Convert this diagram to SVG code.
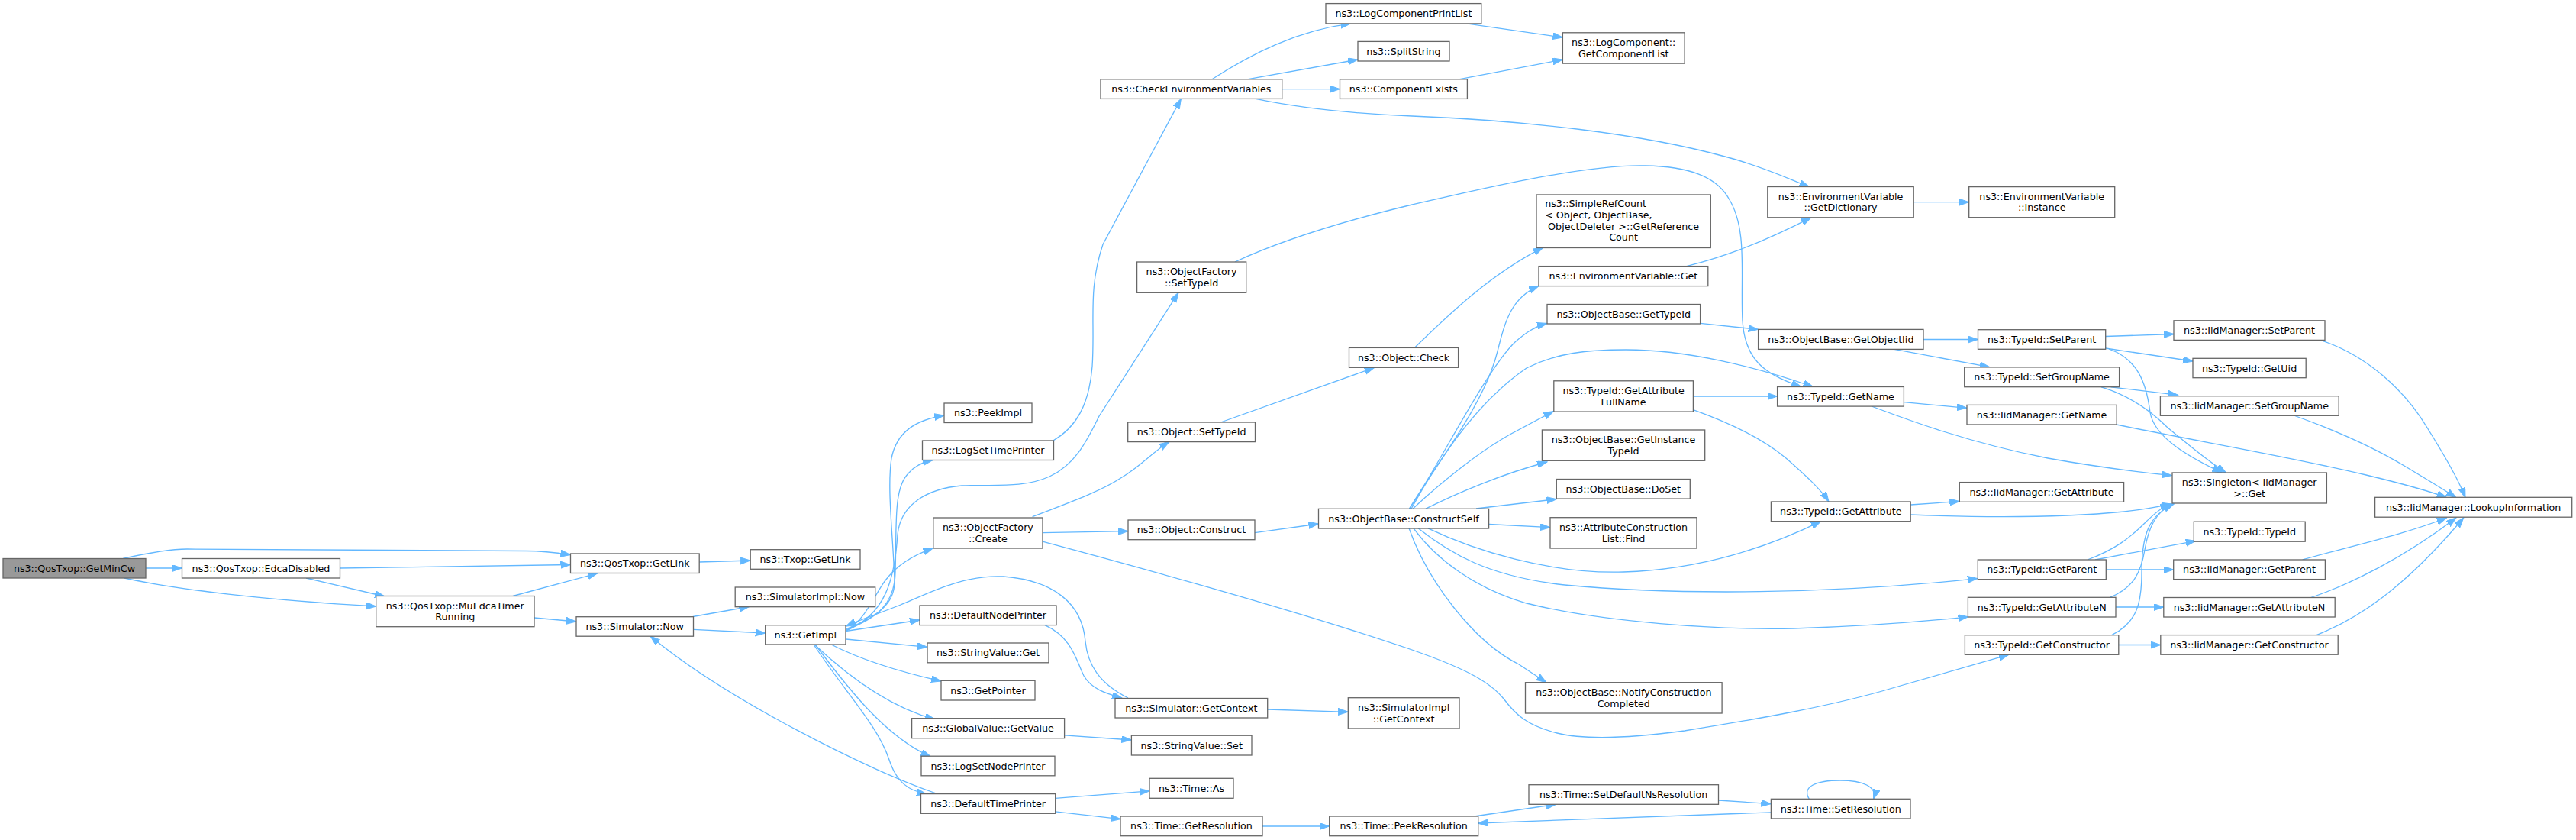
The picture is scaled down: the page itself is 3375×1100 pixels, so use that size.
<svg xmlns="http://www.w3.org/2000/svg" width="3375" height="1100" viewBox="0 0 3375 1100">
<style>
.n rect{fill:#ffffff;stroke:#666666;stroke-width:1.3}
.root rect{fill:#999999}
text{font-family:"DejaVu Sans","Liberation Sans",sans-serif;font-size:12.7px;text-anchor:middle;fill:#000000}
.l{text-anchor:start}
.e path{fill:none;stroke:#63b8ff;stroke-width:1.3;marker-end:url(#a)}
</style>
<defs>
<marker id="a" markerUnits="userSpaceOnUse" markerWidth="14" markerHeight="10" refX="13" refY="4.5" orient="auto">
<path d="M0,0 L13,4.5 L0,9 z" fill="#63b8ff" stroke="#63b8ff" stroke-width="1"/>
</marker>
</defs>
<rect width="3375" height="1100" fill="#ffffff"/>
<g id="edges" class="e">
<path d="M191,744 L238.5,744"/>
<path d="M161,731.5 C190,725 220,719 245,719 L690,721.5 C710,721.5 730,724 747.5,726.6"/>
<path d="M163,757 C230,772 350,786 492.7,794"/>
<path d="M445.5,744 L747.5,739.5"/>
<path d="M401,757 L504,781"/>
<path d="M672,780.5 L783,750.7"/>
<path d="M700,809 L755,814"/>
<path d="M916.2,736 L983.2,734"/>
<path d="M907.8,807.5 L981.5,794.5"/>
<path d="M908.5,824.3 L1002.7,829"/>
<path d="M1228,1039.5 C1140,1010 950,915 852,833"/>
<path d="M1107.6,824 C1150,808 1173,790 1172,760 C1170,700 1162,640 1168,600 C1175,565 1200,550 1237,544"/>
<path d="M1107.6,825 C1150,810 1172,790 1173,750 C1175,690 1170,640 1190,620 C1198,610 1210,605 1222,602.5"/>
<path d="M1108,826 C1160,805 1172,760 1176,700 C1180,660 1215,640 1260,636 C1300,634 1340,640 1375,624 C1410,608 1425,575 1440,545 L1544,383.2"/>
<path d="M1108,827 C1135,810 1145,780 1160,760 C1175,740 1195,728 1222.5,717.7"/>
<path d="M1108,826.5 L1205,812"/>
<path d="M1108.4,837 L1215,847.4"/>
<path d="M1089,844 C1130,865 1180,880 1233,892"/>
<path d="M1067,844 C1100,875 1160,925 1225,942"/>
<path d="M1068,844 C1110,900 1160,965 1219.5,991"/>
<path d="M1066,844 C1110,910 1150,950 1165,995 C1175,1025 1190,1035 1214,1040"/>
<path d="M1478,914 C1440,895 1425,870 1422,840 C1418,790 1380,760 1315,755 C1260,752 1210,780 1180,792 C1150,804 1130,810 1108.4,820"/>
<path d="M1369,818.7 C1405,835 1410,865 1420,885 C1430,902 1448,908 1470,914"/>
<path d="M1379.4,577.2 C1410,560 1427,530 1431,480 C1435,420 1425,380 1445,320 L1547.4,129.4"/>
<path d="M1588,103.8 C1640,70 1700,40 1769.7,30.9"/>
<path d="M1634,103.8 L1779,78"/>
<path d="M1679.7,116.6 L1755.5,116.6"/>
<path d="M1645,129.4 C1720,145 1800,150 1850,152 C2000,158 2150,175 2260,205 C2310,218 2345,235 2370.4,244.5"/>
<path d="M1921.4,30.9 L2047.4,49"/>
<path d="M1911.2,103.8 L2047.4,78"/>
<path d="M2507.2,264.7 L2579.7,264.7"/>
<path d="M2209.7,348.6 C2255,337 2300,322 2373,284.8"/>
<path d="M1617.9,343 C1700,305 1800,280 1850,268 C1950,245 2080,215 2156,217 C2210,218 2248,230 2265,260 C2290,300 2280,360 2283,420 C2286,470 2310,490 2360,506.5"/>
<path d="M1599.4,553 L1800.8,481.3"/>
<path d="M1853.4,455.4 C1890,420 1950,360 2021.8,324.2"/>
<path d="M1352.6,676.7 C1390,662 1440,645 1470,625 C1495,610 1510,592 1532,578.6"/>
<path d="M1366,697.6 L1478,695.6"/>
<path d="M1366,709.2 C1500,745 1700,800 1850,851 C1910,872 1950,890 1970,915 C1985,935 2000,950 2040,960 C2080,970 2140,966 2207,957 C2300,942 2400,925 2483,900 L2631.7,857.3"/>
<path d="M1644,697.6 L1727.5,686"/>
<path d="M1846.4,666.2 C1880,610 1945,530 1962,460 C1972,420 1980,390 2016.2,374.4"/>
<path d="M1847,666.2 C1890,600 1950,480 1986,447 C2000,435 2010,428 2027,423.5"/>
<path d="M1849,666.2 C1880,610 1930,530 2000,482 C2040,462 2080,458 2130,458 C2210,458 2300,480 2375.5,506.5"/>
<path d="M1851,666.2 C1890,630 1940,590 1980,568 L2035.5,538.5"/>
<path d="M1868,666.2 C1910,645 1970,620 2027,605"/>
<path d="M1934,666 L2039.3,653.6"/>
<path d="M1950.6,686.5 L2031,690.7"/>
<path d="M1871,691.8 C1930,720 2030,752 2127,749 C2230,746 2320,715 2385.7,682.6"/>
<path d="M1858,691.8 C1900,725 1950,755 2050,766 C2200,780 2400,778 2590.8,757.6"/>
<path d="M1852,691.8 C1880,730 1930,770 2000,790 C2100,815 2250,825 2350,823 C2450,820 2520,814 2578.6,807.8"/>
<path d="M1846,691.8 C1870,760 1930,840 1990,870 L2026,893.7"/>
<path d="M2227.6,423.4 L2303.6,431.4"/>
<path d="M2520,444.5 L2591.5,444.5"/>
<path d="M2481.7,457.3 L2606.7,480.7"/>
<path d="M2218.4,519 L2328.6,519"/>
<path d="M2218.4,536.6 C2270,555 2310,575 2340,600 C2365,622 2385,640 2396,657"/>
<path d="M2494.4,526.7 L2577,534.3"/>
<path d="M2452,532 C2500,550 2580,580 2683,600 C2750,612 2800,618 2845.3,622.7"/>
<path d="M2758.7,440.5 L2848,437.5"/>
<path d="M2758.7,456 L2873,473"/>
<path d="M2763,457 C2800,470 2812,500 2817,540 C2822,570 2860,595 2911.4,619"/>
<path d="M2765.6,506.8 L2853.6,517.3"/>
<path d="M2753,506.8 C2780,515 2810,530 2840,560 C2870,585 2895,605 2916.4,619"/>
<path d="M2773,556 C2880,578 3000,598 3100,622 C3150,634 3180,642 3205.5,651.6"/>
<path d="M3040,445.4 C3100,465 3150,510 3180,560 C3205,600 3222,630 3230,651.6"/>
<path d="M3005.3,544 C3050,560 3100,580 3150,610 C3180,628 3200,640 3217.9,651.6"/>
<path d="M2503.3,661 L2567.3,656.5"/>
<path d="M2503.3,674 C2600,678 2700,678 2783,670 C2810,667 2830,663 2845.3,660"/>
<path d="M2735,733 C2770,720 2790,705 2810,685 C2825,670 2835,663 2843.3,660"/>
<path d="M2745,733 L2876.7,708.3"/>
<path d="M2759.3,746 L2847.7,746"/>
<path d="M2764.3,782.3 C2795,770 2805,750 2810,720 C2815,690 2825,670 2846.7,660"/>
<path d="M2772,795 L2834.8,795"/>
<path d="M2766.7,831.7 C2800,815 2806,790 2806,750 C2806,700 2815,675 2848.3,660"/>
<path d="M2775.8,844.5 L2830.8,844.5"/>
<path d="M3016.7,733 C3080,715 3150,700 3205.5,678"/>
<path d="M3027.6,782.5 C3080,765 3150,730 3218,678"/>
<path d="M3035,831.6 C3090,810 3150,770 3227.8,678"/>
<path d="M1654,1082 L1741.7,1082"/>
<path d="M1931.6,1069 L2038.8,1053.3"/>
<path d="M2251.5,1048 L2320.4,1052.6"/>
<path d="M2320.4,1063.8 L1936.2,1078"/>
<path d="M2370.4,1046.3 C2360,1030 2380,1022 2411,1022 C2440,1022 2460,1030 2454.6,1046.3"/>
<path d="M1382.7,1045.3 L1506,1035.8"/>
<path d="M1382.7,1062.8 L1468,1072.6"/>
<path d="M1394.6,962.8 L1482.4,969"/>
<path d="M1660.7,929 L1766.3,932.3"/>
</g>
<g id="n1" class="n root"><rect x="4" y="731.5" width="187" height="25.5"/><text x="97.5" y="748.7">ns3::QosTxop::GetMinCw</text></g>
<g id="n2" class="n"><rect x="238.5" y="731.5" width="207" height="25.5"/><text x="342" y="748.7">ns3::QosTxop::EdcaDisabled</text></g>
<g id="n3" class="n"><rect x="492.7" y="780.5" width="207.3" height="40.2"/><text x="596.3" y="797.7">ns3::QosTxop::MuEdcaTimer</text><text x="596.3" y="812.4">Running</text></g>
<g id="n4" class="n"><rect x="747.5" y="725" width="168.7" height="25.5"/><text x="831.8" y="742.2">ns3::QosTxop::GetLink</text></g>
<g id="n5" class="n"><rect x="755" y="807.7" width="153.5" height="25.5"/><text x="831.7" y="824.9">ns3::Simulator::Now</text></g>
<g id="n6" class="n"><rect x="983.2" y="719.7" width="143.8" height="25.6"/><text x="1055.1" y="737">ns3::Txop::GetLink</text></g>
<g id="n7" class="n"><rect x="963.2" y="769" width="183.5" height="25.7"/><text x="1055" y="786.3">ns3::SimulatorImpl::Now</text></g>
<g id="n8" class="n"><rect x="1002.7" y="818.7" width="105.3" height="25.3"/><text x="1055.3" y="835.8">ns3::GetImpl</text></g>
<g id="n9" class="n"><rect x="1237" y="528" width="115" height="25.5"/><text x="1294.5" y="545.2">ns3::PeekImpl</text></g>
<g id="n10" class="n"><rect x="1208.5" y="577" width="172" height="25.5"/><text x="1294.5" y="594.2">ns3::LogSetTimePrinter</text></g>
<g id="n11" class="n"><rect x="1222.8" y="678" width="143.2" height="40"/><text x="1294.4" y="695.1">ns3::ObjectFactory</text><text x="1294.4" y="709.8">::Create</text></g>
<g id="n12" class="n"><rect x="1205" y="793" width="179" height="25.6"/><text x="1294.5" y="810.3">ns3::DefaultNodePrinter</text></g>
<g id="n13" class="n"><rect x="1215" y="842" width="159" height="25.8"/><text x="1294.5" y="859.4">ns3::StringValue::Get</text></g>
<g id="n14" class="n"><rect x="1233" y="891.3" width="123" height="25.7"/><text x="1294.5" y="908.6">ns3::GetPointer</text></g>
<g id="n15" class="n"><rect x="1194.6" y="940.7" width="200" height="26"/><text x="1294.6" y="958.2">ns3::GlobalValue::GetValue</text></g>
<g id="n16" class="n"><rect x="1207" y="990.2" width="175" height="25.6"/><text x="1294.5" y="1007.5">ns3::LogSetNodePrinter</text></g>
<g id="n17" class="n"><rect x="1206.5" y="1039.6" width="176.2" height="25.7"/><text x="1294.6" y="1056.9">ns3::DefaultTimePrinter</text></g>
<g id="n18" class="n"><rect x="1442" y="103.8" width="237.7" height="25.6"/><text x="1560.85" y="121.1">ns3::CheckEnvironmentVariables</text></g>
<g id="n19" class="n"><rect x="1489.6" y="343" width="143.1" height="40.3"/><text x="1561.1" y="360.2">ns3::ObjectFactory</text><text x="1561.1" y="374.9">::SetTypeId</text></g>
<g id="n20" class="n"><rect x="1477.7" y="553" width="166.8" height="25.6"/><text x="1561.1" y="570.3">ns3::Object::SetTypeId</text></g>
<g id="n21" class="n"><rect x="1478" y="681" width="166" height="25.7"/><text x="1561" y="698.3">ns3::Object::Construct</text></g>
<g id="n22" class="n"><rect x="1461" y="914.5" width="199.7" height="25.5"/><text x="1560.85" y="931.7">ns3::Simulator::GetContext</text></g>
<g id="n23" class="n"><rect x="1482.4" y="963.2" width="157.6" height="25.8"/><text x="1561.2" y="980.6">ns3::StringValue::Set</text></g>
<g id="n24" class="n"><rect x="1506" y="1019.3" width="110" height="26"/><text x="1561" y="1036.8">ns3::Time::As</text></g>
<g id="n25" class="n"><rect x="1468" y="1069" width="186" height="25.7"/><text x="1561" y="1086.3">ns3::Time::GetResolution</text></g>
<g id="n26" class="n"><rect x="1737" y="4.6" width="203.8" height="26.3"/><text x="1838.9" y="22.2">ns3::LogComponentPrintList</text></g>
<g id="n27" class="n"><rect x="1779" y="54.4" width="120" height="25.6"/><text x="1839" y="71.7">ns3::SplitString</text></g>
<g id="n28" class="n"><rect x="1755.5" y="103.8" width="166.9" height="25.6"/><text x="1838.9" y="121.1">ns3::ComponentExists</text></g>
<g id="n29" class="n"><rect x="1767.5" y="455.4" width="143.1" height="25.9"/><text x="1839" y="472.8">ns3::Object::Check</text></g>
<g id="n30" class="n"><rect x="1727.5" y="666.3" width="223.1" height="25.7"/><text x="1839" y="683.6">ns3::ObjectBase::ConstructSelf</text></g>
<g id="n31" class="n"><rect x="1766.3" y="913.7" width="145.7" height="40.3"/><text x="1839.1" y="930.9">ns3::SimulatorImpl</text><text x="1839.1" y="945.6">::GetContext</text></g>
<g id="n32" class="n"><rect x="1741.7" y="1069" width="195" height="25.7"/><text x="1839.2" y="1086.3">ns3::Time::PeekResolution</text></g>
<g id="n33" class="n"><rect x="2047.4" y="42.8" width="159.7" height="40.3"/><text x="2127.2" y="60">ns3::LogComponent::</text><text x="2127.2" y="74.7">GetComponentList</text></g>
<g id="n34" class="n"><rect x="2013" y="255" width="228.3" height="69.5"/><text class="l" x="2024.2" y="271">ns3::SimpleRefCount</text><text class="l" x="2024.2" y="285.8">&lt; Object, ObjectBase,</text><text x="2127.1" y="300.9">ObjectDeleter &gt;::GetReference</text><text x="2127.1" y="314.9">Count</text></g>
<g id="n35" class="n"><rect x="2016" y="348.6" width="221.8" height="26"/><text x="2126.9" y="366.1">ns3::EnvironmentVariable::Get</text></g>
<g id="n36" class="n"><rect x="2027" y="398.5" width="200.6" height="25.5"/><text x="2127.3" y="415.7">ns3::ObjectBase::GetTypeId</text></g>
<g id="n37" class="n"><rect x="2035.8" y="498.8" width="182.6" height="40.3"/><text x="2127.1" y="516.1">ns3::TypeId::GetAttribute</text><text x="2127.1" y="530.8">FullName</text></g>
<g id="n38" class="n"><rect x="2020.4" y="563" width="213.3" height="40.3"/><text x="2127" y="580.2">ns3::ObjectBase::GetInstance</text><text x="2127" y="594.9">TypeId</text></g>
<g id="n39" class="n"><rect x="2039.3" y="627.5" width="175" height="25.6"/><text x="2126.8" y="644.8">ns3::ObjectBase::DoSet</text></g>
<g id="n40" class="n"><rect x="2031" y="677.7" width="192" height="40.3"/><text x="2127" y="694.9">ns3::AttributeConstruction</text><text x="2127" y="709.6">List::Find</text></g>
<g id="n41" class="n"><rect x="1998.5" y="893.7" width="257.6" height="40.3"/><text x="2127.3" y="910.9">ns3::ObjectBase::NotifyConstruction</text><text x="2127.3" y="925.6">Completed</text></g>
<g id="n42" class="n"><rect x="2003" y="1027.7" width="248.5" height="25.6"/><text x="2127.2" y="1045">ns3::Time::SetDefaultNsResolution</text></g>
<g id="n43" class="n"><rect x="2315.8" y="244.5" width="191.4" height="40.3"/><text x="2411.5" y="261.7">ns3::EnvironmentVariable</text><text x="2411.5" y="276.4">::GetDictionary</text></g>
<g id="n44" class="n"><rect x="2303.6" y="431.4" width="216.4" height="26"/><text x="2411.8" y="448.9">ns3::ObjectBase::GetObjectIid</text></g>
<g id="n45" class="n"><rect x="2328.6" y="506.5" width="165.8" height="25.6"/><text x="2411.5" y="523.8">ns3::TypeId::GetName</text></g>
<g id="n46" class="n"><rect x="2320.4" y="657" width="182.8" height="25.7"/><text x="2411.8" y="674.3">ns3::TypeId::GetAttribute</text></g>
<g id="n47" class="n"><rect x="2320.4" y="1046.3" width="182.6" height="25.7"/><text x="2411.7" y="1063.6">ns3::Time::SetResolution</text></g>
<g id="n48" class="n"><rect x="2579.7" y="244.6" width="191" height="40.1"/><text x="2675.2" y="261.7">ns3::EnvironmentVariable</text><text x="2675.2" y="276.4">::Instance</text></g>
<g id="n49" class="n"><rect x="2591.5" y="431.7" width="167.2" height="25.6"/><text x="2675.1" y="449">ns3::TypeId::SetParent</text></g>
<g id="n50" class="n"><rect x="2573.7" y="480.9" width="202.9" height="25.8"/><text x="2675.1" y="498.3">ns3::TypeId::SetGroupName</text></g>
<g id="n51" class="n"><rect x="2577" y="530.4" width="196.2" height="25.6"/><text x="2675.1" y="547.7">ns3::IidManager::GetName</text></g>
<g id="n52" class="n"><rect x="2567.3" y="631.6" width="215.3" height="25.7"/><text x="2675" y="648.9">ns3::IidManager::GetAttribute</text></g>
<g id="n53" class="n"><rect x="2591.3" y="733" width="168" height="25.7"/><text x="2675.3" y="750.3">ns3::TypeId::GetParent</text></g>
<g id="n54" class="n"><rect x="2578.4" y="782.3" width="193.6" height="25.7"/><text x="2675.2" y="799.6">ns3::TypeId::GetAttributeN</text></g>
<g id="n55" class="n"><rect x="2574.4" y="831.7" width="201.4" height="25.6"/><text x="2675.1" y="849">ns3::TypeId::GetConstructor</text></g>
<g id="n56" class="n"><rect x="2848" y="419.8" width="198" height="25.6"/><text x="2947" y="437.1">ns3::IidManager::SetParent</text></g>
<g id="n57" class="n"><rect x="2873" y="469.3" width="148.2" height="25.4"/><text x="2947.1" y="486.5">ns3::TypeId::GetUid</text></g>
<g id="n58" class="n"><rect x="2830.4" y="518.7" width="233.8" height="25.6"/><text x="2947.3" y="536">ns3::IidManager::SetGroupName</text></g>
<g id="n59" class="n"><rect x="2846" y="619" width="202.4" height="40"/><text x="2947.2" y="636.2">ns3::Singleton&lt; IidManager</text><text x="2947.2" y="650.9">&gt;::Get</text></g>
<g id="n60" class="n"><rect x="2874.3" y="683.2" width="145.9" height="26"/><text x="2947.25" y="700.7">ns3::TypeId::TypeId</text></g>
<g id="n61" class="n"><rect x="2847.7" y="733" width="198.7" height="25.6"/><text x="2947" y="750.3">ns3::IidManager::GetParent</text></g>
<g id="n62" class="n"><rect x="2834.8" y="782.5" width="224.4" height="25.5"/><text x="2947" y="799.7">ns3::IidManager::GetAttributeN</text></g>
<g id="n63" class="n"><rect x="2830.8" y="831.6" width="232.4" height="25.6"/><text x="2947" y="848.9">ns3::IidManager::GetConstructor</text></g>
<g id="n64" class="n"><rect x="3111.6" y="651.3" width="258.1" height="25.9"/><text x="3240.6" y="668.7">ns3::IidManager::LookupInformation</text></g>
</svg>
